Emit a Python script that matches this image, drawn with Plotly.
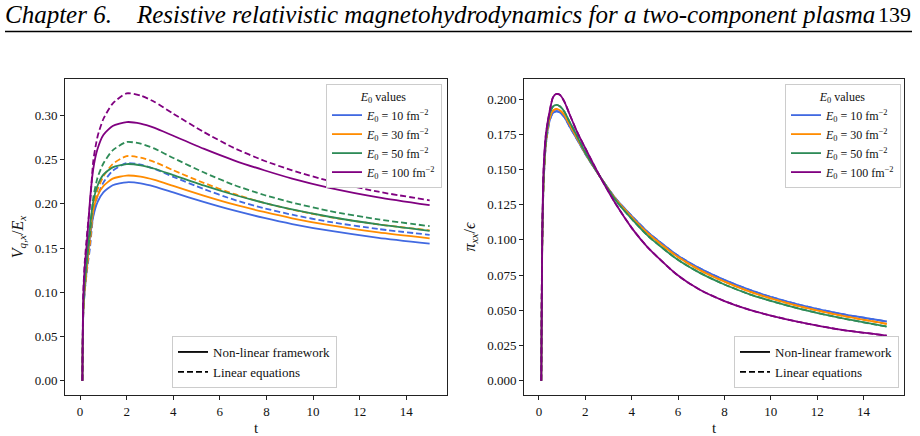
import plotly.graph_objects as go

# ---------------- data ----------------
t_left = [0.1, 0.14, 0.2, 0.3, 0.43, 0.57, 0.75, 1.0, 1.4, 2.0, 2.6, 3.2, 4.0, 5.3, 6.6, 7.9, 9.1, 10.7, 12.8, 15.0]

# Non-linear framework (solid)
vq_nl_10 = [0, 0.076, 0.101, 0.128, 0.162, 0.186, 0.202, 0.213, 0.221, 0.2244, 0.2232, 0.2195, 0.2129, 0.2022, 0.1925, 0.1841, 0.1772, 0.1696, 0.1616, 0.155]
vq_nl_30 = [0, 0.079, 0.104, 0.132, 0.167, 0.193, 0.209, 0.220, 0.2285, 0.232, 0.2307, 0.2270, 0.2203, 0.2093, 0.1993, 0.1908, 0.1837, 0.1759, 0.1677, 0.161]
vq_nl_50 = [0, 0.083, 0.110, 0.140, 0.176, 0.203, 0.2205, 0.233, 0.2413, 0.245, 0.2436, 0.2397, 0.2325, 0.2208, 0.2103, 0.2012, 0.1937, 0.1854, 0.1767, 0.1695]
vq_nl_100 = [0, 0.095, 0.128, 0.158, 0.205, 0.240, 0.262, 0.278, 0.288, 0.2925, 0.2908, 0.2859, 0.2770, 0.2624, 0.2493, 0.2380, 0.2286, 0.2182, 0.2074, 0.1985]

# Linear equations (dashed)
vq_lin_10 = [0, 0.076, 0.101, 0.125, 0.151, 0.188, 0.209, 0.224, 0.2375, 0.246, 0.2444, 0.2395, 0.2306, 0.2168, 0.2047, 0.1950, 0.1877, 0.1796, 0.1715, 0.165]
vq_lin_30 = [0, 0.079, 0.104, 0.130, 0.156, 0.195, 0.216, 0.231, 0.245, 0.254, 0.2523, 0.2473, 0.2380, 0.2238, 0.2112, 0.2011, 0.1935, 0.1851, 0.1767, 0.170]
vq_lin_50 = [0, 0.084, 0.111, 0.138, 0.166, 0.207, 0.2295, 0.2457, 0.2605, 0.270, 0.2681, 0.2624, 0.2519, 0.2357, 0.2214, 0.2100, 0.2015, 0.1919, 0.1824, 0.1748]
vq_lin_100 = [0, 0.100, 0.133, 0.166, 0.200, 0.249, 0.276, 0.296, 0.3135, 0.325, 0.3226, 0.3153, 0.3020, 0.2814, 0.2633, 0.2488, 0.2379, 0.2258, 0.2137, 0.204]

t_right = [0.1, 0.14, 0.2, 0.3, 0.47, 0.6, 0.75, 0.9, 1.1, 1.3, 1.62, 2.0, 2.63, 3.35, 4.0, 4.7, 5.93, 6.94, 8.0, 9.09, 10.0, 11.25, 13.0, 15.0]
pi_10 = [0, 0.095, 0.140, 0.168, 0.185, 0.190, 0.1913, 0.1905, 0.187, 0.181, 0.172, 0.161, 0.145, 0.1285, 0.1170, 0.1055, 0.0895, 0.0797, 0.0715, 0.0644, 0.0595, 0.0538, 0.0475, 0.042]
pi_30 = [0, 0.096, 0.141, 0.169, 0.187, 0.1915, 0.193, 0.192, 0.1885, 0.1825, 0.173, 0.1615, 0.145, 0.1280, 0.1162, 0.1045, 0.0885, 0.0785, 0.0703, 0.0632, 0.0584, 0.0527, 0.0463, 0.0403]
pi_50 = [0, 0.097, 0.143, 0.171, 0.190, 0.1945, 0.1958, 0.1948, 0.191, 0.1845, 0.1745, 0.162, 0.145, 0.1272, 0.1148, 0.1028, 0.0865, 0.0765, 0.0683, 0.0613, 0.0566, 0.0510, 0.0445, 0.0384]
pi_100 = [0, 0.100, 0.150, 0.175, 0.192, 0.201, 0.2036, 0.203, 0.198, 0.190, 0.1776, 0.165, 0.145, 0.1245, 0.1085, 0.0945, 0.0755, 0.0645, 0.0565, 0.0502, 0.0462, 0.0415, 0.0362, 0.032]

e0_labels = ["10", "30", "50", "100"]
colors = ["#4169E1", "#FF8C00", "#2E8B57", "#800080"]
x_ticks = [0, 2, 4, 6, 8, 10, 12, 14]
left_yticks = [0.00, 0.05, 0.10, 0.15, 0.20, 0.25, 0.30]
right_yticks = [0.000, 0.025, 0.050, 0.075, 0.100, 0.125, 0.150, 0.175, 0.200]

nl_left = [vq_nl_10, vq_nl_30, vq_nl_50, vq_nl_100]
lin_left = [vq_lin_10, vq_lin_30, vq_lin_50, vq_lin_100]
nl_right = [pi_10, pi_30, pi_50, pi_100]
lin_right = [pi_10, pi_30, pi_50, pi_100]

# ---------------- figure ----------------
W, H = 920, 436
SERIF = "Liberation Serif, Times New Roman, serif"
LW = 1.8
DASH = "6px,3px"

fig = go.Figure()

def lab(e):
    return "<i>E</i><sub>0</sub> = " + e + " fm<sup>−2</sup>"

for i in range(4):
    fig.add_trace(go.Scatter(x=t_left, y=nl_left[i], mode="lines", xaxis="x", yaxis="y",
                             line=dict(color=colors[i], width=LW, shape="spline", smoothing=0.6),
                             name=lab(e0_labels[i]), legend="legend", showlegend=True))
    fig.add_trace(go.Scatter(x=t_left, y=lin_left[i], mode="lines", xaxis="x", yaxis="y",
                             line=dict(color=colors[i], width=LW, dash=DASH, shape="spline", smoothing=0.6),
                             showlegend=False))
for i in range(4):
    fig.add_trace(go.Scatter(x=t_right, y=nl_right[i], mode="lines", xaxis="x2", yaxis="y2",
                             line=dict(color=colors[i], width=LW, shape="spline", smoothing=0.6),
                             name=lab(e0_labels[i]), legend="legend2", showlegend=True))
    fig.add_trace(go.Scatter(x=t_right, y=lin_right[i], mode="lines", xaxis="x2", yaxis="y2",
                             line=dict(color=colors[i], width=LW, dash=DASH, shape="spline", smoothing=0.6),
                             showlegend=False))

for lg, xa, ya in (("legend3", "x", "y"), ("legend4", "x2", "y2")):
    fig.add_trace(go.Scatter(x=[None], y=[None], mode="lines", xaxis=xa, yaxis=ya,
                             line=dict(color="black", width=LW), name="Non-linear framework", legend=lg))
    fig.add_trace(go.Scatter(x=[None], y=[None], mode="lines", xaxis=xa, yaxis=ya,
                             line=dict(color="black", width=LW, dash=DASH), name="Linear equations", legend=lg))

px_x = lambda p: p / W
px_y = lambda p: 1 - p / H

axis_common = dict(showline=True, linecolor="#222", linewidth=1, mirror=True,
                   ticks="outside", ticklen=4, tickwidth=1, tickcolor="#222",
                   showgrid=False, zeroline=False,
                   tickfont=dict(family=SERIF, size=13, color="#111"))

ydom = [px_y(395), px_y(79)]
fig.update_layout(
    width=W, height=H, margin=dict(l=0, r=0, t=0, b=0),
    paper_bgcolor="white", plot_bgcolor="white",
    font=dict(family=SERIF, color="#111"),
    xaxis=dict(domain=[px_x(65), px_x(447)], range=[-0.645, 15.745], tickvals=x_ticks,
               title=dict(text="t", font=dict(family=SERIF, size=15), standoff=4), anchor="y", **axis_common),
    yaxis=dict(domain=ydom, range=[-0.01625, 0.34125], tickvals=left_yticks, tickformat=".2f",
               title=dict(text="<i>V</i><sub><i>q,x</i></sub>/<i>E</i><sub><i>x</i></sub>",
                          font=dict(family=SERIF, size=16), standoff=7), anchor="x", **axis_common),
    xaxis2=dict(domain=[px_x(524), px_x(904)], range=[-0.645, 15.745], tickvals=x_ticks,
                title=dict(text="t", font=dict(family=SERIF, size=15), standoff=4), anchor="y2", **axis_common),
    yaxis2=dict(domain=ydom, range=[-0.0102, 0.2142], tickvals=right_yticks, tickformat=".3f",
                title=dict(text="<i>π</i><sub><i>xx</i></sub>/<i>ϵ</i>",
                           font=dict(family=SERIF, size=16), standoff=7), anchor="x2", **axis_common),
)

leg_common = dict(bgcolor="white", bordercolor="#cccccc", borderwidth=1,
                  font=dict(family=SERIF, size=12, color="#111"), tracegroupgap=0,
                  xref="paper", yref="paper", itemclick=False)
fig.update_layout(
    legend=dict(x=px_x(442), y=px_y(84), xanchor="right", yanchor="top",
                title=dict(text="<i>E</i><sub>0</sub> values", side="top center", font=dict(family=SERIF, size=12)),
                **leg_common),
    legend2=dict(x=px_x(901), y=px_y(84), xanchor="right", yanchor="top",
                 title=dict(text="<i>E</i><sub>0</sub> values", side="top center", font=dict(family=SERIF, size=12)),
                 **leg_common),
    legend3=dict(x=px_x(337), y=px_y(388), xanchor="right", yanchor="bottom",
                 **{**leg_common, "font": dict(family=SERIF, size=13, color="#111")}),
    legend4=dict(x=px_x(899), y=px_y(388), xanchor="right", yanchor="bottom",
                 **{**leg_common, "font": dict(family=SERIF, size=13, color="#111")}),
)

# page header
NB = "\u00a0"
fig.add_annotation(text="<i>Chapter 6." + NB * 4 + "Resistive relativistic magnetohydrodynamics for a two-component plasma</i>",
                   xref="paper", yref="paper", x=px_x(3), y=px_y(15), xanchor="left", yanchor="middle",
                   showarrow=False, font=dict(family=SERIF, size=25, color="black"))
fig.add_annotation(text="139", xref="paper", yref="paper", x=px_x(913), y=px_y(15), xanchor="right", yanchor="middle",
                   showarrow=False, font=dict(family=SERIF, size=22, color="black"))
fig.add_shape(type="line", xref="paper", yref="paper", x0=px_x(5), x1=px_x(912), y0=px_y(31.5), y1=px_y(31.5),
              line=dict(color="black", width=1.3))

fig.write_html("out.html")
